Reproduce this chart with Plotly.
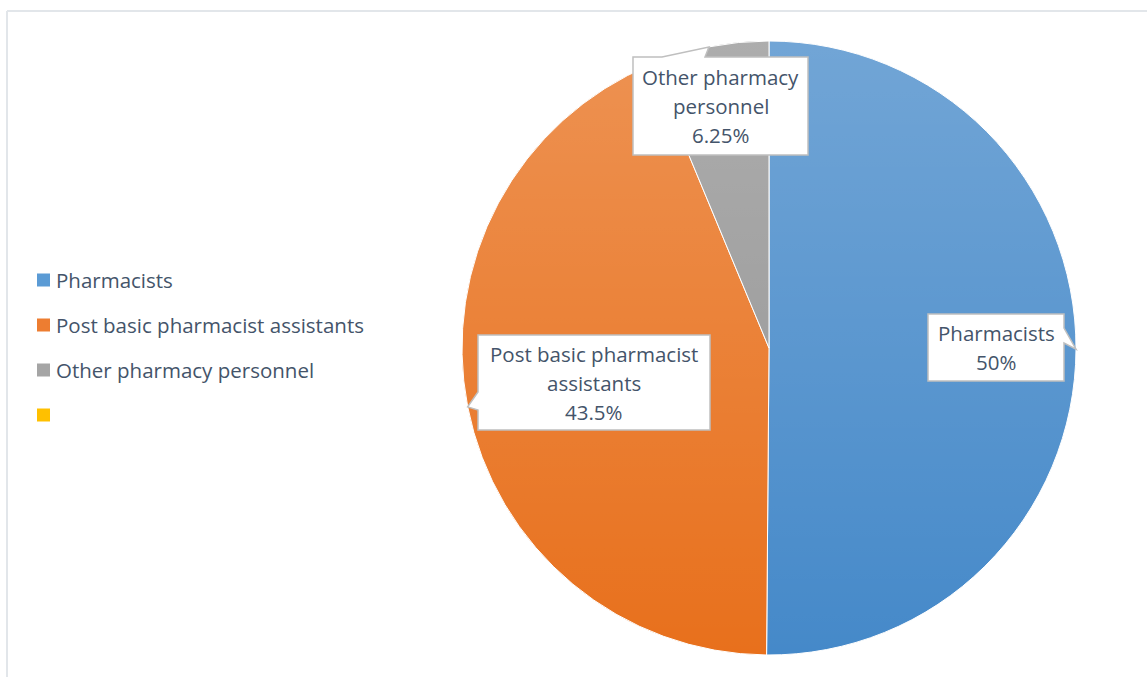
import base64
import math
import textwrap

import plotly.graph_objects as go

# ---- data -------------------------------------------------------------
categories = ["Pharmacists", "Post basic pharmacist assistants", "Other pharmacy personnel", ""]
shares = [50, 43.5, 6.25, 0]
share_labels = ["50%", "43.5%", "6.25%", ""]
colors = ["#5B9BD5", "#ED7D31", "#A5A5A5", "#FFC000"]        # legend swatches
slice_colors = ["#4589C9", "#E8701C", "#939393", "#E6AC00"]  # slice base tone (lightened toward the top)

# ---- canvas geometry (pixels) ----------------------------------------
W, H = 1147, 677
CX, CY, R = 769, 348, 307
TEXT_COLOR = "#44546A"
FONT = "Open Sans"
FONT_SIZE = 20.5


def px(x):
    return x / W


def py(y):
    return 1 - y / H


fig = go.Figure()

drawn = [i for i, v in enumerate(shares) if v > 0]
fig.add_trace(
    go.Pie(
        labels=[categories[i] for i in drawn],
        values=[shares[i] for i in drawn],
        sort=False,
        direction="clockwise",
        rotation=0,
        marker=dict(colors=[slice_colors[i] for i in drawn], line=dict(color="white", width=1)),
        textinfo="none",
        hoverinfo="label+value",
        showlegend=False,
        domain=dict(x=[px(CX - R), px(CX + R)], y=[py(CY + R), py(CY - R)]),
    )
)

# vertical light-to-dark shading over the pie
svg = (
    f'<svg xmlns="http://www.w3.org/2000/svg" width="{2*R}" height="{2*R}" '
    f'viewBox="0 0 {2*R} {2*R}"><defs><linearGradient id="g" x1="0" y1="0" x2="0" y2="1">'
    '<stop offset="0" stop-color="#ffffff" stop-opacity="0.24"/>'
    '<stop offset="1" stop-color="#ffffff" stop-opacity="0"/>'
    f'</linearGradient></defs><circle cx="{R}" cy="{R}" r="{R}" fill="url(#g)"/></svg>'
)
fig.add_layout_image(
    source="data:image/svg+xml;base64," + base64.b64encode(svg.encode()).decode(),
    xref="paper", yref="paper",
    x=px(CX - R), y=py(CY - R),
    sizex=2 * R / W, sizey=2 * R / H,
    xanchor="left", yanchor="top",
    sizing="stretch", layer="above",
)

shapes = []
annotations = []

# outer frame (top and left edges)
frame = "#E2E6EA"
shapes.append(dict(type="line", xref="paper", yref="paper", x0=px(7), x1=px(W + 5),
                   y0=py(11), y1=py(11), line=dict(color=frame, width=2)))
shapes.append(dict(type="line", xref="paper", yref="paper", x0=px(7), x1=px(7),
                   y0=py(11), y1=py(H + 5), line=dict(color=frame, width=2)))

# legend
LEG_X, LEG_Y0, LEG_DY, SQ = 37, 280, 45, 13
for k, (name, col) in enumerate(zip(categories, colors)):
    yc = LEG_Y0 + k * LEG_DY
    shapes.append(dict(type="rect", xref="paper", yref="paper",
                       x0=px(LEG_X), x1=px(LEG_X + SQ), y0=py(yc - SQ / 2), y1=py(yc + SQ / 2),
                       fillcolor=col, line=dict(width=0)))
    if name:
        annotations.append(dict(xref="paper", yref="paper", x=px(LEG_X + SQ + 4), y=py(yc),
                                xanchor="left", yanchor="middle", text=name, showarrow=False,
                                font=dict(family=FONT, size=FONT_SIZE, color=TEXT_COLOR)))

# callout boxes: (left, top, right, bottom), pointer side, pointer base span
boxes = {
    0: ((928, 314, 1064, 381), "right", (328, 343)),
    1: ((478, 335, 710, 430), "left", (392, 410)),
    2: ((633, 57, 808, 155), "top", (662, 705)),
}

total = sum(shares)
start = 0.0
LINE_DY = 29
for i in drawn:
    frac = shares[i] / total
    mid = math.radians(360 * (start + frac / 2))
    start += frac
    tx, ty = CX + R * math.sin(mid), CY - R * math.cos(mid)

    (l, t, r, b), side, (p0, p1) = boxes[i]
    if side == "top":
        pts = [(l, t), (p0, t), (tx, ty), (p1, t), (r, t), (r, b), (l, b)]
    elif side == "right":
        pts = [(l, t), (r, t), (r, p0), (tx, ty), (r, p1), (r, b), (l, b)]
    else:
        pts = [(l, t), (r, t), (r, b), (l, b), (l, p1), (tx, ty), (l, p0)]
    path = "M " + " L ".join(f"{px(x):.5f},{py(y):.5f}" for x, y in pts) + " Z"
    shapes.append(dict(type="path", xref="paper", yref="paper", path=path,
                       fillcolor="white", line=dict(color="#BFBFBF", width=1.5), layer="above"))

    lines = textwrap.wrap(categories[i], width=21) + [share_labels[i]]
    yc = (t + b) / 2 - (len(lines) - 1) * LINE_DY / 2
    for j, txt in enumerate(lines):
        annotations.append(dict(xref="paper", yref="paper", x=px((l + r) / 2), y=py(yc + j * LINE_DY),
                                xanchor="center", yanchor="middle", text=txt, showarrow=False,
                                font=dict(family=FONT, size=FONT_SIZE, color=TEXT_COLOR)))

fig.update_layout(
    width=W, height=H, autosize=False,
    margin=dict(l=0, r=0, t=0, b=0),
    paper_bgcolor="white", plot_bgcolor="white",
    shapes=shapes, annotations=annotations,
    showlegend=False,
)

fig.write_html("out.html")
